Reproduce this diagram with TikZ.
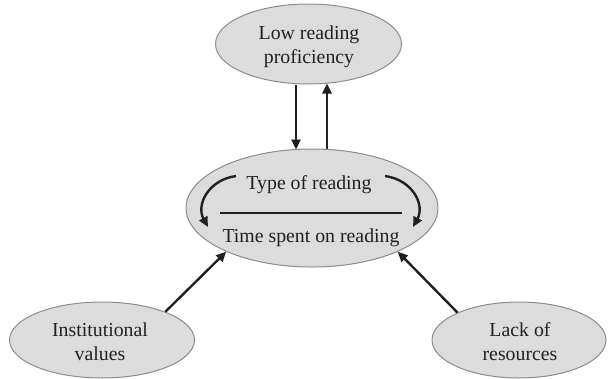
\documentclass[tikz,border=0pt]{standalone}
\usepackage{fontspec}
\setmainfont{Liberation Serif}
\usetikzlibrary{shapes.geometric,arrows.meta}
\definecolor{bubfill}{HTML}{DCDCDC}
\definecolor{bubline}{HTML}{8C8C8C}
\definecolor{ink}{HTML}{231F20}
\tikzset{
  bub/.style={ellipse, fill=bubfill, draw=bubline, line width=1pt, inner sep=0pt},
  lbl/.style={inner sep=0pt, align=center, text=ink, font=\fontsize{19.8}{24}\selectfont},
  arr/.style={draw=ink, line width=2.4pt, -{Triangle[length=10pt,width=9pt]}},
  rule/.style={draw=ink, line width=1.8pt}
}
\begin{document}
\begin{tikzpicture}[x=1pt,y=-1pt]
\useasboundingbox (0,0) rectangle (608,378);
% ellipses
\node[bub, minimum width=186pt, minimum height=80pt] (top) at (308.5,44) {};
\node[bub, minimum width=252pt, minimum height=118pt] (mid) at (312,208) {};
\node[bub, minimum width=185pt, minimum height=76pt] (left) at (102,340) {};
\node[bub, minimum width=174pt, minimum height=76pt] (right) at (519,340) {};
% texts
\node[lbl] (toptext) at (309,47) {Low reading\\proficiency};
\node[lbl] (lefttext) at (100,342) {Institutional\\values};
\node[lbl] (righttext) at (520,342) {Lack of\\resources};
\node[lbl] (type) at (309,185) {Type of reading};
\node[lbl] (time) at (311,238) {Time spent on reading};
% dividing line
\coordinate (l1) at (220,213);
\coordinate (l2) at (402,213);
\draw[rule] (l1) -- (l2);
% curved arrows
\coordinate (cl1) at (236,176);
\coordinate (cl2) at (208,227);
\coordinate (cr1) at (385,176);
\coordinate (cr2) at (413,227);
\draw[arr] (cl1) .. controls (208,180) and (196,205) .. (cl2);
\draw[arr] (cr1) .. controls (413,180) and (425,205) .. (cr2);
% vertical arrows
\draw[arr] ([xshift=-12.5pt]top.south) -- ([xshift=-16pt,yshift=-1pt]mid.north);
\draw[arr] ([xshift=15pt]mid.north) -- ([xshift=18.5pt,yshift=1pt]top.south);
% diagonal arrows
\draw[arr] (left.24) -- (mid.207);
\draw[arr] (right.156) -- (mid.333);
\end{tikzpicture}
\end{document}
